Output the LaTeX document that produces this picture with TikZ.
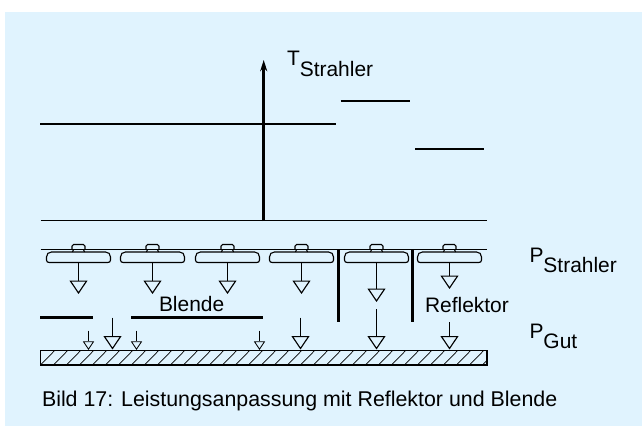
\documentclass[tikz,border=0pt]{standalone}
\usepackage{fontspec}
\setmainfont{Liberation Sans}
\usetikzlibrary{arrows.meta}
\definecolor{panelblue}{HTML}{E0F3FE}
\newcommand{\lowtext}[2]{#1\raisebox{-7.6pt}{#2}}

\begin{document}
\begin{tikzpicture}[x=0.025cm, y=-0.025cm,
    label/.style={inner sep=0pt, outer sep=0pt, anchor=base west, font=\fontsize{14.9}{17}\selectfont},
    thinline/.style={line width=0.8pt},
    midline/.style={line width=1.2pt},
    thickline/.style={line width=1.8pt},
    bigarrow/.style={thinline, -{Triangle[open, length=9.6pt, width=12.8pt]}},
    smallarrow/.style={line width=0.6pt, -{Triangle[open, length=6.2pt, width=8pt]}}]
\useasboundingbox (0,0) rectangle (642,426);
\fill[panelblue] (5,12) rectangle (642,426);

% temperature
\coordinate (axisfoot) at (263.7,221);
\coordinate (axistip) at (263.7,60);
\draw[thickline, -{Stealth[length=8pt, width=5pt]}] (axisfoot) -- (axistip);
\draw[thinline] (40.5,220.6) -- (487,220.6);
\draw[midline] (40,124) -- (335.5,124);
\draw[midline] (340.5,101) -- (410,101);
\draw[midline] (415,149) -- (484,149);

% lamps
\draw[thinline] (40.5,249.5) -- (487,249.5);
\foreach \n/\x/\tip in {1/78.5/294, 2/152.5/294, 3/227.5/294, 4/301.5/294, 5/376.5/302, 6/449.5/289} {
  \draw[thinline, rounded corners=1.2pt] (\x-6.5,249.5) -- (\x-6.5,244.5) -- (\x+6.5,244.5) -- (\x+6.5,249.5);
  \draw[thinline] (\x-5,249.5) -- (\x-6,252) (\x+5,249.5) -- (\x+6,252);
  \draw[thinline] (\x-27,252) -- (\x+27,252) .. controls (\x+30,252) and (\x+32,254) .. (\x+32,257)
    -- (\x+32,260) .. controls (\x+32,261.8) and (\x+31,262.5) .. (\x+29,262.5) -- (\x-29,262.5)
    .. controls (\x-31,262.5) and (\x-32,261.8) .. (\x-32,260) -- (\x-32,257)
    .. controls (\x-32,254) and (\x-30,252) .. (\x-27,252) -- cycle;
  \coordinate (lamp\n) at (\x,262.5);
  \coordinate (down\n) at (\x,\tip);
  \draw[bigarrow] (lamp\n) -- (down\n);
}

% reflector and aperture
\draw[thickline] (338.4,249.5) -- (338.4,321.7);
\draw[thickline] (412.6,249.5) -- (412.6,321.7);
\draw[thickline] (40,317.3) -- (93,317.3);
\draw[thickline] (131,317.3) -- (263,317.3);

% power at the work piece
\foreach \n/\x/\top in {1/112.5/317.7, 2/300.5/317.7, 3/376.5/309, 4/449.5/322} {
  \coordinate (gutfrom\n) at (\x,\top);
  \coordinate (gutto\n) at (\x,349.5);
  \draw[bigarrow] (gutfrom\n) -- (gutto\n);
}
\foreach \n/\x in {1/88.5, 2/136.5, 3/259.5} {
  \coordinate (leakfrom\n) at (\x,330.7);
  \coordinate (leakto\n) at (\x,350);
  \draw[smallarrow] (leakfrom\n) -- (leakto\n);
}

% work piece
\begin{scope}
\clip (40.5,350.7) rectangle (487,365);
\foreach \k in {0,...,35} {
  \draw[line width=0.5pt] (40.5+13*\k,365) -- (54.5+13*\k,350.7);
}
\end{scope}
\draw[thinline] (40.5,350.7) rectangle (487,365);

\node[label] (tstrahler) at (287,65.7) {\lowtext{T}{Strahler}};
\node[label] (pstrahler) at (529.5,262) {\lowtext{P}{Strahler}};
\node[label] (pgut) at (529.5,338) {\lowtext{P}{Gut}};
\node[label] (blende) at (159,311.7) {Blende};
\node[label] (reflektor) at (425,312.7) {Reflektor};
\node[label, font=\fontsize{15.2}{17}\selectfont] (caption) at (42,406) {Bild 17: Leistungsanpassung mit Reflektor und Blende};
\end{tikzpicture}
\end{document}
